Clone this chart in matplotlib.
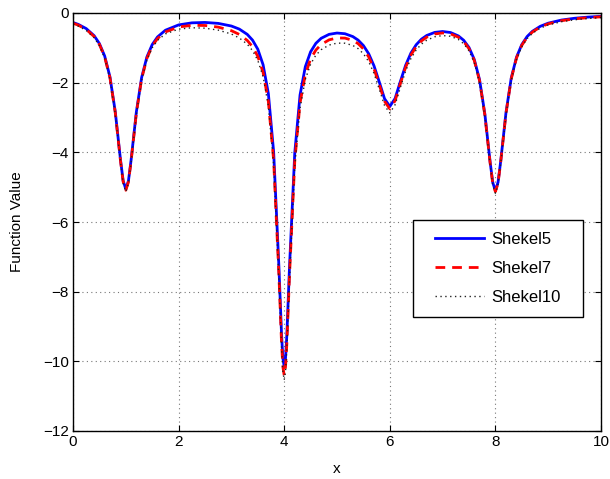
import matplotlib
matplotlib.use('Agg')
import matplotlib.pyplot as plt
from matplotlib.patches import Rectangle

# values
x = [0, 0.1, 0.25, 0.4, 0.5, 0.6, 0.7, 0.8, 0.9, 0.95,
     1.0, 1.05, 1.1, 1.2, 1.3, 1.4, 1.5, 1.6, 1.75, 2.0,
     2.25, 2.5, 2.75, 3.0, 3.15, 3.3, 3.4, 3.5, 3.6, 3.7,
     3.8, 3.9, 3.95, 3.975, 4.0, 4.025, 4.05, 4.1, 4.2, 4.3,
     4.4, 4.5, 4.6, 4.7, 4.85, 5.0, 5.15, 5.3, 5.4, 5.5,
     5.6, 5.7, 5.8, 5.9, 6.0, 6.1, 6.2, 6.3, 6.4, 6.5,
     6.6, 6.7, 6.85, 7.0, 7.15, 7.3, 7.4, 7.5, 7.6, 7.7,
     7.8, 7.9, 7.95, 8.0, 8.05, 8.1, 8.2, 8.3, 8.4, 8.5,
     8.6, 8.7, 8.85, 9.0, 9.25, 9.5, 9.75, 10.0]

shekel5 = [-0.273, -0.327, -0.447, -0.651, -0.877, -1.236, -1.833, -2.828, -4.219, -4.816,
           -5.055, -4.819, -4.225, -2.839, -1.851, -1.260, -0.907, -0.688, -0.495, -0.342,
           -0.283, -0.271, -0.298, -0.374, -0.462, -0.613, -0.778, -1.040, -1.485, -2.311,
           -3.988, -7.290, -9.241, -9.908, -10.153, -9.911, -9.248, -7.304, -4.015, -2.353,
           -1.542, -1.114, -0.870, -0.726, -0.613, -0.575, -0.595, -0.677, -0.778, -0.934,
           -1.169, -1.514, -1.977, -2.459, -2.683, -2.454, -1.967, -1.500, -1.150, -0.911,
           -0.750, -0.645, -0.557, -0.531, -0.560, -0.659, -0.784, -0.990, -1.333, -1.915,
           -2.896, -4.276, -4.867, -5.101, -4.859, -4.260, -2.865, -1.867, -1.267, -0.905,
           -0.677, -0.526, -0.382, -0.292, -0.203, -0.151, -0.118, -0.096]

shekel7 = [-0.294, -0.349, -0.470, -0.676, -0.902, -1.263, -1.861, -2.857, -4.250, -4.847,
           -5.088, -4.852, -4.259, -2.875, -1.889, -1.300, -0.950, -0.734, -0.545, -0.401,
           -0.354, -0.358, -0.405, -0.508, -0.615, -0.787, -0.967, -1.244, -1.703, -2.542,
           -4.228, -7.537, -9.490, -10.157, -10.403, -10.160, -9.497, -7.551, -4.257, -2.586,
           -1.763, -1.321, -1.063, -0.905, -0.771, -0.716, -0.720, -0.787, -0.880, -1.029,
           -1.258, -1.597, -2.055, -2.532, -2.752, -2.519, -2.029, -1.558, -1.206, -0.964,
           -0.801, -0.693, -0.602, -0.573, -0.599, -0.695, -0.820, -1.024, -1.365, -1.946,
           -2.927, -4.305, -4.895, -5.129, -4.886, -4.287, -2.891, -1.892, -1.291, -0.928,
           -0.700, -0.548, -0.403, -0.312, -0.221, -0.168, -0.134, -0.110]

shekel10 = [-0.322, -0.378, -0.501, -0.708, -0.936, -1.298, -1.898, -2.895, -4.289, -4.887,
            -5.128, -4.894, -4.302, -2.920, -1.935, -1.348, -1.000, -0.786, -0.600, -0.463,
            -0.423, -0.436, -0.491, -0.604, -0.717, -0.895, -1.079, -1.360, -1.823, -2.665,
            -4.355, -7.667, -9.622, -10.290, -10.536, -10.294, -9.632, -7.688, -4.397, -2.728,
            -1.907, -1.467, -1.210, -1.053, -0.920, -0.865, -0.867, -0.932, -1.023, -1.169,
            -1.394, -1.730, -2.183, -2.656, -2.871, -2.634, -2.139, -1.663, -1.306, -1.059,
            -0.892, -0.780, -0.683, -0.648, -0.668, -0.760, -0.881, -1.083, -1.421, -2.000,
            -2.978, -4.354, -4.943, -5.176, -4.932, -4.332, -2.934, -1.933, -1.330, -0.966,
            -0.736, -0.583, -0.436, -0.343, -0.249, -0.194, -0.158, -0.132]

plt.rcParams['font.family'] = ['Liberation Sans', 'DejaVu Sans']
plt.rcParams['axes.unicode_minus'] = True

fig = plt.figure(figsize=(6.1, 4.79), dpi=100)
ax = fig.add_axes([73 / 610, 1 - 431 / 479, 528 / 610, 418 / 479])

ax.plot(x, shekel5, color='#0000ff', lw=2.0, label='Shekel5')
ax.plot(x, shekel7, color='#ff0000', lw=2.0, ls=(0, (3.5, 2.5)), label='Shekel7')
ax.plot(x, shekel10, color='#222222', lw=1.0, ls=(0, (1, 2.5)), label='Shekel10')

ax.set_xlim(0, 10)
ax.set_ylim(-12, 0)
ax.set_xticks([0, 2, 4, 6, 8, 10])
ax.set_yticks([0, -2, -4, -6, -8, -10, -12])
ax.grid(True, color='#777777', ls=(0, (1, 3)), lw=0.8)
ax.tick_params(direction='in', top=True, right=True, length=4, labelsize=11, pad=3)
for s in ax.spines.values():
    s.set_linewidth(1.0)

ax.set_xlabel('x', fontsize=11, labelpad=9)
ax.set_ylabel('Function Value', fontsize=11, labelpad=14)

# legend box drawn separately so the padding can be wider than tall
box = Rectangle((0.644, 0.273), 0.322, 0.232, transform=ax.transAxes,
                facecolor='white', edgecolor='black', lw=1.0, zorder=4)
ax.add_patch(box)
leg = ax.legend(loc='center', bbox_to_anchor=(0.805, 0.389), frameon=False,
                fontsize=12, handlelength=2.93, handletextpad=0.48,
                labelspacing=0.85, borderpad=0, borderaxespad=0)
leg.set_zorder(5)

fig.savefig('out.png', dpi=100)
